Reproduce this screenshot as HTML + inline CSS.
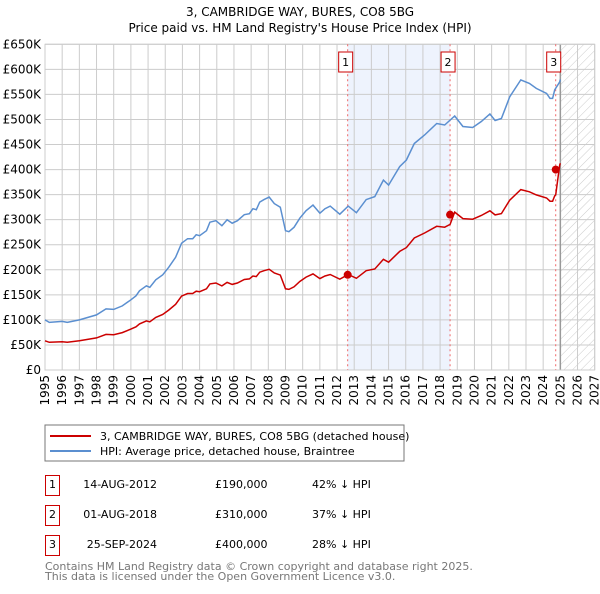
<!DOCTYPE html>
<html><head><meta charset="utf-8"><style>
body{margin:0;width:600px;height:590px;background:#fff;font-family:"DejaVu Sans","Liberation Sans",sans-serif;overflow:hidden}
svg text{font-family:"DejaVu Sans","Liberation Sans",sans-serif}
</style></head><body>
<svg id="c" width="600" height="590">
<defs><pattern id="hatch" width="6" height="6" patternUnits="userSpaceOnUse" patternTransform="rotate(45)"><line x1="0" y1="0" x2="0" y2="6" stroke="#ccc" stroke-width="1"/></pattern></defs>
<text x="300" y="16" text-anchor="middle" font-size="12">3, CAMBRIDGE WAY, BURES, CO8 5BG</text>
<text x="300" y="32" text-anchor="middle" font-size="12">Price paid vs. HM Land Registry's House Price Index (HPI)</text>
<g id="plot"></g>
<rect x="45" y="425" width="359" height="36" fill="#fff" stroke="#777"/>
<line x1="50" y1="436" x2="91" y2="436" stroke="#cc0000" stroke-width="2"/>
<text x="100" y="440" font-size="11">3, CAMBRIDGE WAY, BURES, CO8 5BG (detached house)</text>
<line x1="50" y1="451" x2="91" y2="451" stroke="#5b8fd0" stroke-width="2"/>
<text x="100" y="455" font-size="11">HPI: Average price, detached house, Braintree</text>
<g id="tbl" font-size="11"></g>
<text x="45" y="570" font-size="11" fill="#777">Contains HM Land Registry data © Crown copyright and database right 2025.</text>
<text x="45" y="580" font-size="11" fill="#777">This data is licensed under the Open Government Licence v3.0.</text>
</svg>
<script>
const hpiYears=[1995.0,1995.25,1996.0,1996.3,1997.0,1998.0,1998.55,1999.0,1999.5,2000.0,2000.3,2000.5,2000.9,2001.1,2001.45,2001.85,2002.2,2002.6,2002.95,2003.3,2003.6,2003.8,2004.0,2004.4,2004.6,2004.95,2005.3,2005.6,2005.9,2006.2,2006.6,2006.9,2007.1,2007.3,2007.5,2007.75,2008.05,2008.35,2008.7,2009.0,2009.2,2009.5,2009.83,2010.2,2010.6,2011.0,2011.3,2011.6,2012.16,2012.65,2013.13,2013.7,2014.2,2014.7,2015.0,2015.65,2016.04,2016.5,2017.1,2017.8,2018.27,2018.85,2019.33,2019.9,2020.4,2020.9,2021.2,2021.57,2022.05,2022.7,2023.2,2023.6,2024.2,2024.4,2024.55,2024.67,2024.96,2025.0];
const hpiValues=[100,95,97,95,100,110,122,121,128,140,148,158,168,165,180,190,205,225,253,262,262,270,268,278,295,298,288,300,293,298,310,312,322,320,335,340,345,332,325,278,276,285,303,318,329,313,322,327,311,327,314,340,346,379,369,406,419,452,469,492,489,507,486,484,496,511,498,502,545,579,572,562,552,542,542,559,575,580];
const saleYears=[2012.62,2018.58,2024.73];
const salePrices=[190,310,400];
const saleLabels=["1","2","3"];
const saleDates=["14-AUG-2012","01-AUG-2018","25-SEP-2024"];
const salePriceText=["£190,000","£310,000","£400,000"];
const salePct=["42% ↓ HPI","37% ↓ HPI","28% ↓ HPI"];
const yTicks=[0,50,100,150,200,250,300,350,400,450,500,550,600,650];
const yTickLabels=["£0","£50K","£100K","£150K","£200K","£250K","£300K","£350K","£400K","£450K","£500K","£550K","£600K","£650K"];
const xTicks=[1995,1996,1997,1998,1999,2000,2001,2002,2003,2004,2005,2006,2007,2008,2009,2010,2011,2012,2013,2014,2015,2016,2017,2018,2019,2020,2021,2022,2023,2024,2025,2026,2027];

const X0=45,X1=594.7,Y0=370,Y1=44.3,xmin=1995,xmax=2027,ymax=650;
const xs=y=>X0+(y-xmin)/(xmax-xmin)*(X1-X0);
const ys=v=>Y0-v/ymax*(Y0-Y1);
const NS="http://www.w3.org/2000/svg";
const plot=document.getElementById('plot');
function mk(tag,at,parent){const e=document.createElementNS(NS,tag);for(const k in at)e.setAttribute(k,at[k]);(parent||plot).appendChild(e);return e;}
function hpiAt(t){for(let i=0;i<hpiYears.length-1;i++){if(t<=hpiYears[i+1]){const f=(t-hpiYears[i])/(hpiYears[i+1]-hpiYears[i]);return hpiValues[i]+f*(hpiValues[i+1]-hpiValues[i]);}}return hpiValues[hpiValues.length-1];}

let e=mk('rect',{x:xs(saleYears[0]),y:Y1,width:xs(saleYears[1])-xs(saleYears[0]),height:Y0-Y1,fill:'#eef3fd'});


e=mk('rect',{x:xs(2025),y:Y1,width:X1-xs(2025),height:Y0-Y1,fill:'url(#hatch)'});


yTicks.forEach((v,i)=>{
 let l=mk('line',{x1:X0,x2:X1,y1:ys(v),y2:ys(v),stroke:'#ccc'});
 
 
 let t=mk('text',{x:X0-4,y:ys(v)+4,'text-anchor':'end','font-size':'12'});t.textContent=yTickLabels[i];
 
 
});
xTicks.forEach(yr=>{
 let l=mk('line',{x1:xs(yr),x2:xs(yr),y1:Y1,y2:Y0,stroke:'#ccc'});
 
 
 let t=mk('text',{x:0,y:0,'font-size':'12','text-anchor':'end',transform:`translate(${xs(yr)+4},${Y0+5}) rotate(-90)`});t.textContent=yr;
 
 
});
e=mk('line',{x1:xs(2025),x2:xs(2025),y1:Y1,y2:Y0,stroke:'#999','stroke-width':1.5});


e=mk('rect',{x:X0,y:Y1,width:X1-X0,height:Y0-Y1,fill:'none',stroke:'#ccc'});


saleYears.forEach((sy,i)=>{
 let l=mk('line',{x1:xs(sy),x2:xs(sy),y1:Y1,y2:Y0,stroke:'#e66','stroke-dasharray':'2,3'});
 
 
 let r=mk('rect',{x:xs(sy)-9,y:52,width:14,height:20,fill:'#fff',stroke:'#cc0000'});
 
 
 let t=mk('text',{x:xs(sy)-2,y:66,'text-anchor':'middle','font-size':'11'});t.textContent=saleLabels[i];
 
 
});
// HPI line
let d=hpiYears.map((y,i)=>(i?'L':'M')+xs(y).toFixed(1)+','+ys(hpiValues[i]).toFixed(1)).join('');
e=mk('path',{d:d,fill:'none',stroke:'#5b8fd0','stroke-width':1.5});


// property line: HPI indexed from each sale
let pts=[];
function seg(a,b,ref,price){const f=price/hpiAt(ref);hpiYears.forEach((y,i)=>{if(y>=a&&y<b)pts.push([y,hpiValues[i]*f]);});pts.push([b,hpiAt(b)*f]);}
seg(1995,saleYears[0],saleYears[0],salePrices[0]);
seg(saleYears[0],saleYears[1],saleYears[0],salePrices[0]);
seg(saleYears[1],saleYears[2],saleYears[1],salePrices[1]);
seg(saleYears[2],2025,saleYears[2],salePrices[2]);
d=pts.map((p,i)=>(i?'L':'M')+xs(p[0]).toFixed(1)+','+ys(p[1]).toFixed(1)).join('');
e=mk('path',{d:d,fill:'none',stroke:'#cc0000','stroke-width':1.5});


saleYears.forEach((sy,i)=>{
 let c=mk('circle',{cx:xs(sy),cy:ys(salePrices[i]),r:4,fill:'#cc0000'});
 
 
});
const tbl=document.getElementById('tbl');
saleYears.forEach((sy,i)=>{
 const y0=475+i*30;
 let r=mk('rect',{x:45.5,y:y0+0.5,width:14,height:20,fill:'#fff',stroke:'#cc0000'},tbl);
 
 
 let t=mk('text',{x:52.5,y:y0+13,'text-anchor':'middle'},tbl);t.textContent=saleLabels[i];
 
 
 t=mk('text',{x:157,y:y0+13,'text-anchor':'end'},tbl);t.textContent=saleDates[i];
 
 
 t=mk('text',{x:215,y:y0+13},tbl);t.textContent=salePriceText[i];
 
 
 t=mk('text',{x:312,y:y0+13},tbl);t.textContent=salePct[i];
 
 
});
</script>
</body></html>
